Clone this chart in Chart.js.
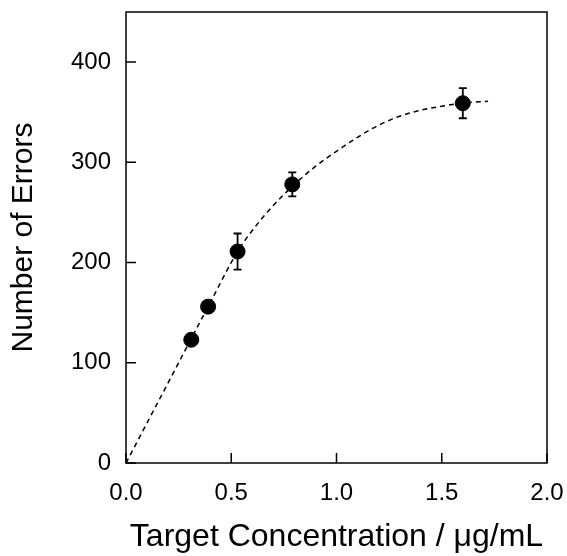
<!DOCTYPE html>
<html>
<head>
<meta charset="utf-8">
<script src="https://cdn.jsdelivr.net/npm/chart.js@4.4.1/dist/chart.umd.min.js"></script>
<style>
    html, body { margin: 0; padding: 0; background: #fff; }
    #wrap { width: 567px; height: 556px; position: relative; }
</style>
</head>
<body>
<div id="wrap"><canvas id="chart"></canvas></div>
<script>
// measured concentrations (ug/mL), mean error counts and their +/- spread
const concentration = [0.31, 0.39, 0.53, 0.79, 1.60];
const errorCount = [123, 156, 211, 278, 359];
const errorSpread = [0, 0, 18, 12, 15];

// fitted trend, sampled along the dashed curve
const fitX = [0, 0.2, 0.4, 0.53, 0.6, 0.7, 0.8, 0.9, 1.0, 1.1, 1.2, 1.3, 1.4, 1.5, 1.6, 1.72];
const fitY = [0, 80, 160, 211, 232, 257, 278, 296, 311, 325, 337, 346, 352, 356, 359, 361];

const xTicks = [0, 0.5, 1.0, 1.5, 2.0];
const yTicks = [0, 100, 200, 300, 400];

const FONT = "'Liberation Sans', Arial, Helvetica, sans-serif";

// black frame round the plot area plus short inward tick marks
const framePlugin = {
    id: 'frame',
    afterDraw(chart) {
        const { ctx, chartArea: a, scales } = chart;
        ctx.save();
        ctx.strokeStyle = '#000';
        ctx.lineWidth = 1.5;
        ctx.strokeRect(a.left, a.top, a.right - a.left, a.bottom - a.top);
        ctx.beginPath();
        xTicks.forEach(v => {
            const px = scales.x.getPixelForValue(v);
            ctx.moveTo(px, a.bottom);
            ctx.lineTo(px, a.bottom - 10);
        });
        yTicks.forEach(v => {
            const py = scales.y.getPixelForValue(v);
            ctx.moveTo(a.left, py);
            ctx.lineTo(a.left + 10, py);
        });
        ctx.stroke();
        ctx.restore();
    }
};

// vertical error bars with flat caps, drawn under the markers
const errorBarPlugin = {
    id: 'errorBars',
    beforeDatasetDraw(chart, args) {
        if (args.index !== 1) return;
        const { ctx, scales } = chart;
        ctx.save();
        ctx.strokeStyle = '#000';
        ctx.lineWidth = 1.8;
        concentration.forEach((c, i) => {
            const d = errorSpread[i];
            if (!d) return;
            const px = scales.x.getPixelForValue(c);
            const top = scales.y.getPixelForValue(errorCount[i] + d);
            const bot = scales.y.getPixelForValue(errorCount[i] - d);
            ctx.beginPath();
            ctx.moveTo(px, top); ctx.lineTo(px, bot);
            ctx.moveTo(px - 4, top); ctx.lineTo(px + 4, top);
            ctx.moveTo(px - 4, bot); ctx.lineTo(px + 4, bot);
            ctx.stroke();
        });
        ctx.restore();
    }
};

new Chart(document.getElementById('chart'), {
    type: 'scatter',
    data: {
        datasets: [
            {
                label: 'fit',
                data: fitX.map((x, i) => ({ x: x, y: fitY[i] })),
                showLine: true,
                borderColor: '#000',
                borderWidth: 1.5,
                borderDash: [5, 4],
                cubicInterpolationMode: 'monotone',
                pointRadius: 0,
                order: 2
            },
            {
                label: 'errors',
                data: concentration.map((x, i) => ({ x: x, y: errorCount[i] })),
                backgroundColor: '#000',
                borderColor: '#000',
                pointRadius: 7.5,
                order: 1
            }
        ]
    },
    options: {
        responsive: true,
        maintainAspectRatio: false,
        animation: false,
        layout: { padding: { top: 12, right: 20, left: 0, bottom: 0 } },
        plugins: { legend: { display: false }, tooltip: { enabled: false } },
        scales: {
            x: {
                type: 'linear',
                min: 0,
                max: 2,
                afterBuildTicks: s => { s.ticks = xTicks.map(v => ({ value: v })); },
                afterFit: s => {
                    s.height = 93;
                    s.paddingLeft = 0;
                    s.paddingRight = 0;
                },
                grid: { display: false, drawTicks: false },
                border: { display: false },
                ticks: {
                    color: '#000',
                    font: { family: FONT, size: 24 },
                    padding: 16,
                    maxRotation: 0,
                    callback: v => v.toFixed(1)
                },
                title: {
                    display: true,
                    text: 'Target Concentration / μg/mL',
                    color: '#000',
                    font: { family: FONT, size: 32 },
                    padding: { top: 0, bottom: 0 }
                }
            },
            y: {
                type: 'linear',
                min: 0,
                max: 450,
                afterBuildTicks: s => { s.ticks = yTicks.map(v => ({ value: v })); },
                afterFit: s => {
                    s.width = 126;
                    s.paddingTop = 0;
                    s.paddingBottom = 0;
                },
                grid: { display: false, drawTicks: false },
                border: { display: false },
                ticks: {
                    color: '#000',
                    font: { family: FONT, size: 24 },
                    padding: 15
                },
                title: {
                    display: true,
                    text: 'Number of Errors',
                    color: '#000',
                    font: { family: FONT, size: 30 },
                    padding: { top: 6, bottom: 0 }
                }
            }
        }
    },
    plugins: [framePlugin, errorBarPlugin]
});
</script>
</body>
</html>
